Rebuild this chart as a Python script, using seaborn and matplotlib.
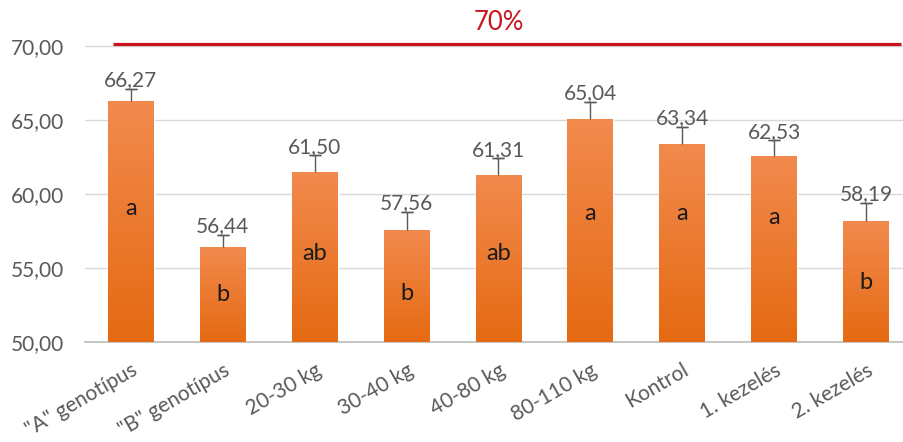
import numpy as np
import matplotlib
matplotlib.use("Agg")
import matplotlib.pyplot as plt
import seaborn as sns
from matplotlib.colors import LinearSegmentedColormap

categories = ['"A" genotípus', '"B" genotípus', '20-30 kg', '30-40 kg', '40-80 kg',
              '80-110 kg', 'Kontrol', '1. kezelés', '2. kezelés']
means = [66.27, 56.44, 61.50, 57.56, 61.31, 65.04, 63.34, 62.53, 58.19]
errors = [0.85, 0.8, 1.1, 1.25, 1.1, 1.2, 1.2, 1.1, 1.2]
letters = ['a', 'b', 'ab', 'b', 'ab', 'a', 'a', 'a', 'b']
letter_y = [59.05, 53.2, 56.0, 53.3, 56.0, 58.7, 58.7, 58.4, 54.0]
target = 70.1
target_label = '70%'

sns.set_theme(style="white")
plt.rcParams['font.family'] = ['Lato', 'DejaVu Sans']

fig = plt.figure(figsize=(9.04, 4.42), dpi=100)
ax = fig.add_axes([85 / 904, 100 / 442, 827 / 904, 342 / 442])

sns.barplot(x=categories, y=means, color='#EE7B30', width=0.5, ax=ax,
            saturation=1, zorder=2)

# orange gradient on each bar
cmap = LinearSegmentedColormap.from_list('og', ['#E56A12', '#F28A4E'])
grad = np.linspace(0, 1, 256).reshape(-1, 1)
for bar in ax.patches:
    x0 = bar.get_x()
    w = bar.get_width()
    top = bar.get_height()
    im = ax.imshow(grad, cmap=cmap, origin='lower', aspect='auto',
                   extent=[x0, x0 + w, 50, top], zorder=3)
    im.set_clip_path(bar)
ax.set_xlim(-0.5, 8.5)
ax.set_ylim(50, 73.1)

# upper error bars only (stem from bar top, cap at the end)
xs = np.arange(len(categories))
tops = np.array(means) + np.array(errors)
ax.vlines(xs, means, tops, color='#595959', linewidth=1.0, zorder=4)
ax.errorbar(xs, tops, yerr=0, fmt='none', ecolor='#595959', capsize=4,
            capthick=1.0, elinewidth=0, zorder=4)

for x, m, t in zip(xs, means, tops):
    ax.annotate(f'{m:.2f}'.replace('.', ','), (x, t), xytext=(0, -1),
                textcoords='offset points', ha='center', va='bottom',
                fontsize=15, color='#595959', zorder=5)

for x, l, ly in zip(xs, letters, letter_y):
    ax.text(x, ly, l, ha='center', va='center', fontsize=17, color='#1a1a1a', zorder=5)

ax.hlines(target, -0.2, 8.38, color='#C8141E', linewidth=2.3, zorder=4)
ax.text(4, 71.6, target_label, ha='center', va='center', fontsize=18.5, color='#C8141E')

ax.set_yticks([50, 55, 60, 65, 70])
ax.set_yticklabels([f'{v:.2f}'.replace('.', ',') for v in [50, 55, 60, 65, 70]])
ax.grid(axis='y', color='#D9D9D9', linewidth=1)
ax.set_axisbelow(True)
for s in ['top', 'right', 'left']:
    ax.spines[s].set_visible(False)
ax.spines['bottom'].set_color('#BFBFBF')
ax.tick_params(axis='y', length=0, labelsize=15, labelcolor='#595959', pad=15)
ax.tick_params(axis='x', length=0, labelsize=15, labelcolor='#595959', pad=13)
for lab in ax.get_xticklabels():
    lab.set_rotation(30)
    lab.set_ha('right')
    lab.set_rotation_mode('anchor')
ax.set_xlabel('')
ax.set_ylabel('')

fig.savefig('out.png', dpi=100)
